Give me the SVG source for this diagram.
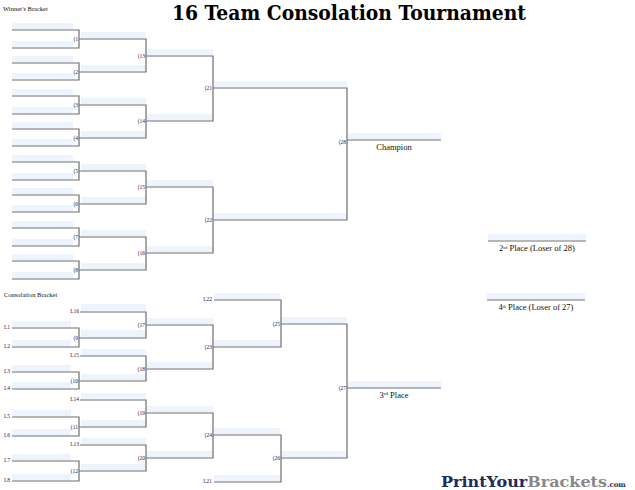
<svg xmlns="http://www.w3.org/2000/svg" width="635" height="490" viewBox="0 0 635 490">
<style>
.l{stroke:#6e6e6e;stroke-width:1.2;fill:none}
.s{fill:#eef4fd}
.n{font-family:"Liberation Serif",serif;font-size:5.5px;fill:#1c2060}
.r{text-anchor:end}
.h{font-family:"Liberation Serif",serif;font-size:6.5px;fill:#111}
.t{font-family:"Liberation Serif",serif;font-size:8.5px;fill:#111;text-anchor:middle}
</style>
<rect width="635" height="490" fill="#fff"/>
<text x="349" y="20" font-family="DejaVu Serif" font-weight="bold" font-size="20" text-anchor="middle" textLength="354" lengthAdjust="spacingAndGlyphs" fill="#000">16 Team Consolation Tournament</text>
<text class="h" x="3" y="11">Winner's Bracket</text>
<text class="h" x="4" y="297">Consolation Bracket</text>
<g id="shading">
<!-- winner R1 -->
<rect class="s" x="12" y="23" width="61" height="6"/><rect class="s" x="12" y="41" width="61" height="6"/>
<rect class="s" x="12" y="56" width="61" height="6"/><rect class="s" x="12" y="73" width="61" height="6"/>
<rect class="s" x="12" y="89" width="61" height="6"/><rect class="s" x="12" y="107" width="61" height="6"/>
<rect class="s" x="12" y="122" width="61" height="6"/><rect class="s" x="12" y="139" width="61" height="6"/>
<rect class="s" x="12" y="155" width="61" height="6"/><rect class="s" x="12" y="173" width="61" height="6"/>
<rect class="s" x="12" y="188" width="61" height="6"/><rect class="s" x="12" y="205" width="61" height="6"/>
<rect class="s" x="12" y="221" width="61" height="6"/><rect class="s" x="12" y="239" width="61" height="6"/>
<rect class="s" x="12" y="254" width="61" height="6"/><rect class="s" x="12" y="272" width="61" height="6"/>
<!-- winner R2 -->
<rect class="s" x="81" y="32" width="65" height="6"/><rect class="s" x="81" y="65" width="65" height="6"/>
<rect class="s" x="81" y="98" width="65" height="6"/><rect class="s" x="81" y="131" width="65" height="6"/>
<rect class="s" x="81" y="164" width="65" height="6"/><rect class="s" x="81" y="197" width="65" height="6"/>
<rect class="s" x="81" y="230" width="65" height="6"/><rect class="s" x="81" y="263" width="65" height="6"/>
<!-- winner R3 -->
<rect class="s" x="147" y="49" width="66" height="6"/><rect class="s" x="147" y="114" width="66" height="6"/>
<rect class="s" x="147" y="180" width="66" height="6"/><rect class="s" x="147" y="246" width="66" height="6"/>
<!-- winner R4 -->
<rect class="s" x="214" y="81" width="133" height="6"/><rect class="s" x="214" y="213" width="133" height="6"/>
<rect class="s" x="348" y="133" width="93" height="6"/>
<rect class="s" x="488" y="234" width="98" height="6"/>
<rect class="s" x="487" y="293" width="98" height="6"/>
<!-- consolation -->
<rect class="s" x="12" y="321" width="59" height="6"/><rect class="s" x="12" y="340" width="59" height="6"/>
<rect class="s" x="12" y="365" width="59" height="6"/><rect class="s" x="12" y="382" width="59" height="6"/>
<rect class="s" x="12" y="410" width="59" height="6"/><rect class="s" x="12" y="429" width="59" height="6"/>
<rect class="s" x="12" y="454" width="59" height="6"/><rect class="s" x="12" y="474" width="59" height="6"/>
<rect class="s" x="81" y="304" width="65" height="7"/><rect class="s" x="81" y="330" width="65" height="7"/>
<rect class="s" x="81" y="349" width="65" height="6"/><rect class="s" x="81" y="374" width="65" height="6"/>
<rect class="s" x="81" y="393" width="65" height="6"/><rect class="s" x="81" y="420" width="65" height="6"/>
<rect class="s" x="81" y="438" width="65" height="6"/><rect class="s" x="81" y="464" width="65" height="6"/>
<rect class="s" x="147" y="318" width="66" height="6"/><rect class="s" x="147" y="362" width="66" height="6"/>
<rect class="s" x="147" y="406" width="66" height="6"/><rect class="s" x="147" y="451" width="66" height="6"/>
<rect class="s" x="214" y="293" width="66" height="6"/><rect class="s" x="214" y="340" width="66" height="6"/>
<rect class="s" x="214" y="428" width="66" height="6"/><rect class="s" x="214" y="475" width="66" height="6"/>
<rect class="s" x="281" y="317" width="66" height="6"/><rect class="s" x="281" y="451" width="66" height="6"/>
<rect class="s" x="348" y="381" width="93" height="6"/>
</g>
<g id="connectors" class="l">
<path d="M12 30H79V48H12M12 63H79V80H12M12 96H79V114H12M12 129H79V146H12M12 162H79V180H12M12 195H79V212H12M12 228H79V246H12M12 261H79V279H12"/>
<path d="M79 39H146V72H79M79 105H146V138H79M79 171H146V204H79M79 237H146V270H79"/>
<path d="M146 56H213V121H146M146 187H213V253H146"/>
<path d="M213 88H347V220H213M347 140H441"/>
<path d="M488 241H586M487 300H585"/>
<path d="M12 328H79V347H12M12 372H79V389H12M12 417H79V436H12M12 461H79V481H12"/>
<path d="M80 312H146V338H79M80 356H146V381H79M80 400H146V427H79M80 445H146V471H79"/>
<path d="M146 325H213V369H146M146 413H213V458H146"/>
<path d="M214 300H281V347H213M213 435H281V482H214"/>
<path d="M281 324H347V458H281M347 388H441"/>
</g>
<g id="labels">
<text class="n r" x="78" y="41">(1</text><text class="n r" x="78" y="74">(2</text>
<text class="n r" x="78" y="107">(3</text><text class="n r" x="78" y="140">(4</text>
<text class="n r" x="78" y="173">(5</text><text class="n r" x="78" y="206">(6</text>
<text class="n r" x="78" y="239">(7</text><text class="n r" x="78" y="272">(8</text>
<text class="n r" x="145" y="58">(13</text><text class="n r" x="145" y="123">(14</text>
<text class="n r" x="145" y="189">(15</text><text class="n r" x="145" y="255">(16</text>
<text class="n r" x="212" y="90">(21</text><text class="n r" x="212" y="222">(22</text>
<text class="n r" x="346" y="144">(28</text>
<text class="n r" x="78" y="340">(9</text><text class="n r" x="78" y="383">(10</text>
<text class="n r" x="78" y="429">(11</text><text class="n r" x="78" y="473">(12</text>
<text class="n r" x="145" y="327">(17</text><text class="n r" x="145" y="371">(18</text>
<text class="n r" x="145" y="415">(19</text><text class="n r" x="145" y="460">(20</text>
<text class="n r" x="212" y="349">(23</text><text class="n r" x="212" y="437">(24</text>
<text class="n r" x="280" y="326">(25</text><text class="n r" x="280" y="460">(26</text>
<text class="n r" x="346" y="390">(27</text>
<text class="n" x="4" y="329">L1</text><text class="n" x="4" y="348">L2</text>
<text class="n" x="4" y="373">L3</text><text class="n" x="4" y="390">L4</text>
<text class="n" x="4" y="418">L5</text><text class="n" x="4" y="437">L6</text>
<text class="n" x="4" y="462">L7</text><text class="n" x="4" y="482">L8</text>
<text class="n r" x="79" y="313">L16</text><text class="n r" x="79" y="357">L15</text>
<text class="n r" x="79" y="401">L14</text><text class="n r" x="79" y="446">L13</text>
<text class="n r" x="212" y="301">L22</text><text class="n r" x="212" y="483">L21</text>
<text class="t" x="394" y="150">Champion</text>
<text class="t" x="394" y="398">3<tspan font-size="5" dy="-3">rd</tspan><tspan dy="3"> Place</tspan></text>
<text class="t" x="537" y="251" font-size="6.5px">2<tspan font-size="4" dy="-2.5">nd</tspan><tspan dy="2.5"> Place (Loser of 28)</tspan></text>
<text class="t" x="536" y="310" font-size="6.5px">4<tspan font-size="4" dy="-2.5">th</tspan><tspan dy="2.5"> Place (Loser of 27)</tspan></text>
</g>
<text x="441" y="487" font-family="DejaVu Serif" font-weight="bold" font-size="15" textLength="166" lengthAdjust="spacingAndGlyphs"><tspan fill="#1c2c5c">PrintYour</tspan><tspan fill="#888">Brackets</tspan></text>
<text x="607" y="487" font-family="DejaVu Serif" font-weight="bold" font-size="7" fill="#1c2c5c">.com</text>
</svg>
